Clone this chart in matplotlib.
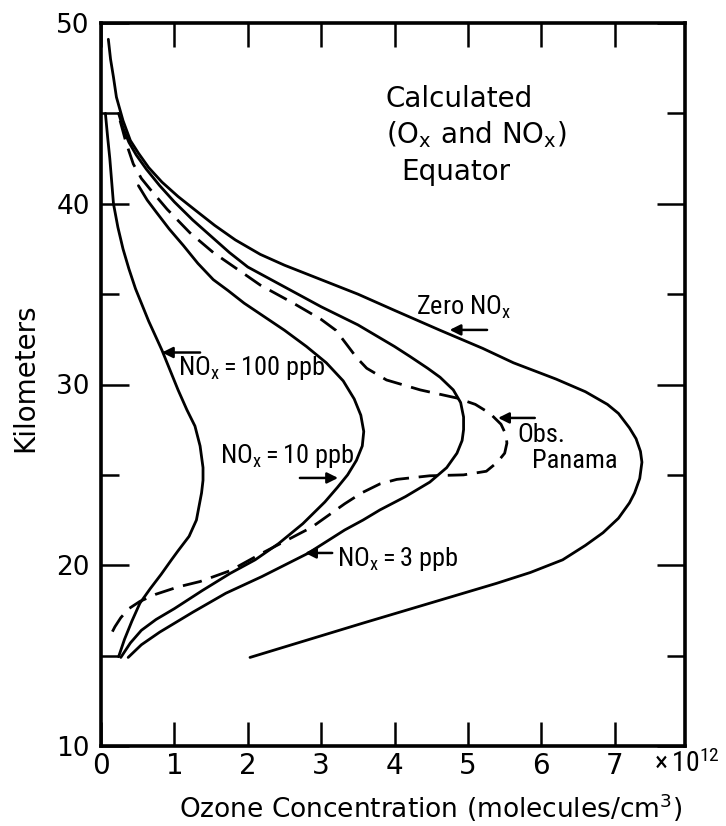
import matplotlib
matplotlib.use("Agg")
import matplotlib.pyplot as plt
from matplotlib import font_manager as fm

# ---------------- data ----------------
zero_x = [0.10, 0.13, 0.17, 0.21, 0.30, 0.40, 0.51, 0.65, 0.83, 1.05, 1.28, 1.55,
          1.83, 2.17, 2.50, 3.00, 3.50, 4.00, 4.62, 5.20, 5.62, 6.20, 6.60, 6.90,
          7.05, 7.20, 7.29, 7.35, 7.37, 7.34, 7.27, 7.20, 7.05, 6.84, 6.60, 6.29,
          5.85, 5.39, 4.48, 3.57, 2.80, 2.03]
zero_y = [49.1, 48.0, 47.0, 45.9, 44.6, 43.5, 42.8, 42.0, 41.2, 40.4, 39.66, 38.8,
          38.0, 37.2, 36.6, 35.8, 35.0, 34.1, 33.0, 32.0, 31.2, 30.3, 29.6, 28.9,
          28.4, 27.6, 27.0, 26.3, 25.7, 24.8, 24.0, 23.45, 22.6, 21.8, 21.1, 20.3,
          19.6, 19.0, 17.9, 16.8, 15.85, 14.9]

ppb3_x = [0.24, 0.30, 0.38, 0.48, 0.62, 0.80, 1.00, 1.25, 1.50, 1.75, 2.00, 2.50,
          3.00, 3.50, 4.00, 4.21, 4.45, 4.62, 4.80, 4.90, 4.94, 4.94, 4.92, 4.85,
          4.71, 4.48, 4.15, 3.80, 3.57, 3.32, 2.82, 2.19, 1.70, 1.25, 0.80, 0.55, 0.37]
ppb3_y = [45.0, 44.2, 43.4, 42.7, 41.9, 41.0, 40.1, 39.1, 38.2, 37.3, 36.5, 35.4,
          34.3, 33.3, 32.1, 31.55, 30.9, 30.4, 29.7, 29.0, 28.2, 27.5, 26.9, 26.2,
          25.4, 24.6, 23.8, 23.06, 22.5, 21.95, 20.66, 19.37, 18.45, 17.4, 16.3, 15.6, 14.9]

ppb10_x = [0.51, 0.63, 0.76, 0.93, 1.12, 1.32, 1.53, 1.73, 1.95, 2.17, 2.50, 2.80,
           3.07, 3.30, 3.45, 3.54, 3.58, 3.56, 3.48, 3.36, 3.22, 3.05, 2.75, 2.42,
           2.10, 1.76, 1.38, 1.00, 0.75, 0.55, 0.40, 0.27]
ppb10_y = [41.0, 40.2, 39.5, 38.6, 37.7, 36.7, 35.8, 35.2, 34.5, 33.9, 33.0, 32.1,
           31.2, 30.2, 29.2, 28.3, 27.4, 26.6, 25.8, 25.0, 24.3, 23.5, 22.3, 21.2,
           20.3, 19.55, 18.6, 17.6, 17.0, 16.4, 15.7, 14.9]

ppb100_x = [0.06, 0.09, 0.12, 0.17, 0.23, 0.30, 0.38, 0.47, 0.56, 0.65, 0.83, 0.94,
            1.05, 1.17, 1.28, 1.35, 1.39, 1.39, 1.37, 1.30, 1.20, 1.05, 0.96, 0.82,
            0.67, 0.53, 0.42, 0.32, 0.24]
ppb100_y = [45.0, 43.7, 42.5, 40.0, 38.7, 37.5, 36.4, 35.3, 34.4, 33.5, 31.9, 30.8,
            29.7, 28.6, 27.7, 26.6, 25.4, 24.7, 24.0, 22.5, 21.6, 20.8, 20.3, 19.5,
            18.7, 17.9, 16.9, 15.9, 14.94]

obs_x = [0.26, 0.34, 0.44, 0.55, 0.67, 0.90, 1.21, 1.53, 1.94, 2.17, 2.62, 3.00,
         3.20, 3.35, 3.48, 3.62, 3.89, 4.35, 4.85, 5.10, 5.30, 5.45, 5.52, 5.53,
         5.50, 5.40, 5.25, 4.94, 4.48, 4.03, 3.80, 3.55, 3.32, 2.87, 2.19, 1.76,
         1.35, 1.05, 0.75, 0.53, 0.38, 0.27, 0.19, 0.12]
obs_y = [44.6, 43.4, 42.2, 41.4, 40.8, 39.7, 38.4, 37.3, 36.15, 35.5, 34.5, 33.6,
         33.0, 32.2, 31.5, 30.9, 30.25, 29.7, 29.25, 28.9, 28.4, 27.8, 27.2, 26.75,
         26.2, 25.7, 25.2, 25.0, 24.95, 24.75, 24.5, 24.0, 23.4, 22.1, 20.66, 19.7,
         19.1, 18.8, 18.4, 18.0, 17.6, 17.1, 16.6, 16.05]

x_ticks = [0, 1, 2, 3, 4, 5, 6, 7]
y_major = [10, 20, 30, 40, 50]
y_minor = [15, 25, 35, 45]

# ---------------- fonts ----------------
def have(name):
    try:
        fm.findfont(fm.FontProperties(family=name), fallback_to_default=False)
        return True
    except Exception:
        return False

NARROW, nfs = 'DejaVu Sans', 16
for cand, size in [('Liberation Sans Narrow', 20), ('DejaVu Sans Condensed', 18),
                   ('Roboto Condensed', 19), ('Roboto', 18)]:
    if have(cand):
        NARROW, nfs = cand, size
        break

WIDE = 'DejaVu Sans'
plt.rcParams['font.family'] = [WIDE]
plt.rcParams['mathtext.default'] = 'regular'

W, H = 726, 826
fig = plt.figure(figsize=(W / 100, H / 100), dpi=100)
L, R, B, T = 101, 684.5, 746, 23
ax = fig.add_axes([L / W, 1 - B / H, (R - L) / W, (B - T) / H])
ax.set_xlim(0, 7.95)
ax.set_ylim(10, 50)

lw = 2.0
solid = dict(color='black', lw=lw, solid_capstyle='round', solid_joinstyle='round')
ax.plot(zero_x, zero_y, **solid)
ax.plot(ppb3_x, ppb3_y, **solid)
ax.plot(ppb10_x, ppb10_y, **solid)
ax.plot(ppb100_x, ppb100_y, **solid)
ax.plot(obs_x, obs_y, color='black', lw=lw, dashes=(7, 3.5))

for s in ax.spines.values():
    s.set_linewidth(2.6)

ax.set_xticks(x_ticks)
ax.set_xticklabels([str(v) for v in x_ticks])
ax.set_yticks(y_major)
ax.set_yticklabels([str(v) for v in y_major])
ax.set_yticks(y_minor, minor=True)
ax.tick_params(axis='x', which='major', direction='in', length=17, width=1.8,
               top=True, bottom=True, labelsize=20, pad=4)
ax.tick_params(axis='y', which='major', direction='in', length=20, width=1.8,
               left=True, right=True, labelsize=19, pad=8)
ax.tick_params(axis='y', which='minor', direction='in', length=13, width=1.8,
               left=True, right=True)

# multiplier
fig.text(654 / W, 1 - 772 / H, r'×$\,$10$^{12}$', fontsize=20, family=NARROW,
         ha='left', va='baseline')

# axis labels
fig.text(431 / W, 1 - 808 / H, 'Ozone Concentration (molecules/cm$^3$)',
         fontsize=19, ha='center', va='center')
fig.text(25 / W, 1 - 378 / H, 'Kilometers', fontsize=20, rotation=90,
         ha='center', va='center')

# header text
ax.text(3.88, 45.36, 'Calculated', fontsize=20, ha='left', va='baseline')
ax.text(3.88, 43.37, '(O$_x$ and NO$_x$)', fontsize=20, ha='left', va='baseline')
ax.text(4.09, 41.32, 'Equator', fontsize=20, ha='left', va='baseline')

# curve labels
kw = dict(fontsize=nfs, family=NARROW, ha='left', va='baseline')
ax.text(4.29, 33.85, 'Zero NO$_x$', **kw)
ax.text(1.05, 30.53, r'NO$_x\,$=$\,$100 ppb', **kw)
ax.text(1.62, 25.66, r'NO$_x\,$=$\,$10 ppb', **kw)
ax.text(3.22, 19.96, r'NO$_x\,$=$\,$3 ppb', **kw)
ax.text(5.67, 26.82, 'Obs.', **kw)
ax.text(5.87, 25.38, 'Panama', **kw)

arrow = dict(arrowstyle='-|>', lw=1.8, color='black', mutation_scale=16,
             shrinkA=0, shrinkB=0)
ax.annotate('', xy=(4.75, 33.02), xytext=(5.26, 33.02), arrowprops=arrow)
ax.annotate('', xy=(0.83, 31.77), xytext=(1.35, 31.77), arrowprops=arrow)
ax.annotate('', xy=(3.23, 24.83), xytext=(2.71, 24.83), arrowprops=arrow)
ax.annotate('', xy=(2.78, 20.68), xytext=(3.15, 20.68), arrowprops=arrow)
ax.annotate('', xy=(5.41, 28.15), xytext=(5.91, 28.15), arrowprops=arrow)

fig.savefig('out.png', dpi=100)
